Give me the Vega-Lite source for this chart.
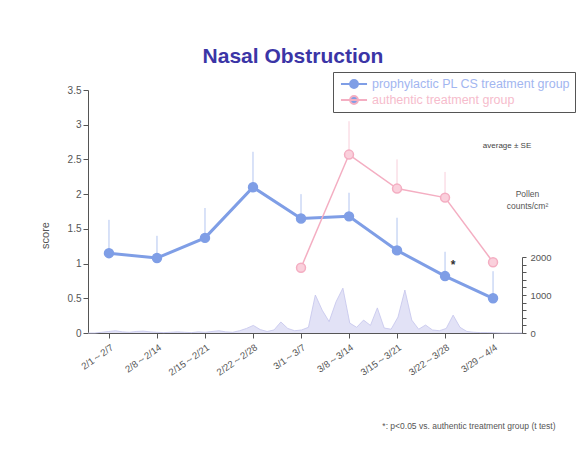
{
  "$schema": "https://vega.github.io/schema/vega-lite/v6.json",
  "width": 434,
  "height": 243,
  "autosize": "none",
  "padding": {"left": 88, "top": 90, "right": 65, "bottom": 128},
  "background": "white",
  "config": {
    "font": "Liberation Sans",
    "view": {"stroke": null},
    "axis": {"grid": false, "domainColor": "#555", "tickColor": "#555", "labelColor": "#555", "titleColor": "#555", "titleFontWeight": "normal", "labelFont": "Liberation Sans", "titleFont": "Liberation Sans"}
  },
  "title": {"text": "Nasal Obstruction", "fontSize": 21, "fontWeight": "bold", "color": "#3b35a6", "anchor": "middle", "dx": -12, "offset": 5},
  "datasets": {
    "pollen": [
      {"day": 0, "pollen": 0}, {"day": 1, "pollen": 0}, {"day": 2, "pollen": 20}, {"day": 3, "pollen": 40}, {"day": 4, "pollen": 60},
      {"day": 5, "pollen": 30}, {"day": 6, "pollen": 20}, {"day": 7, "pollen": 40}, {"day": 8, "pollen": 50}, {"day": 9, "pollen": 30},
      {"day": 10, "pollen": 20}, {"day": 11, "pollen": 10}, {"day": 12, "pollen": 20}, {"day": 13, "pollen": 30}, {"day": 14, "pollen": 20},
      {"day": 15, "pollen": 10}, {"day": 16, "pollen": 30}, {"day": 17, "pollen": 20}, {"day": 18, "pollen": 40}, {"day": 19, "pollen": 60},
      {"day": 20, "pollen": 30}, {"day": 21, "pollen": 20}, {"day": 22, "pollen": 60}, {"day": 23, "pollen": 120}, {"day": 24, "pollen": 200},
      {"day": 25, "pollen": 90}, {"day": 26, "pollen": 40}, {"day": 27, "pollen": 80}, {"day": 28, "pollen": 290}, {"day": 29, "pollen": 120},
      {"day": 30, "pollen": 60}, {"day": 31, "pollen": 80}, {"day": 32, "pollen": 150}, {"day": 33, "pollen": 1000}, {"day": 34, "pollen": 600},
      {"day": 35, "pollen": 300}, {"day": 36, "pollen": 820}, {"day": 37, "pollen": 1180}, {"day": 38, "pollen": 260}, {"day": 39, "pollen": 150},
      {"day": 40, "pollen": 340}, {"day": 41, "pollen": 200}, {"day": 42, "pollen": 660}, {"day": 43, "pollen": 130}, {"day": 44, "pollen": 100},
      {"day": 45, "pollen": 420}, {"day": 46, "pollen": 1130}, {"day": 47, "pollen": 340}, {"day": 48, "pollen": 100}, {"day": 49, "pollen": 210},
      {"day": 50, "pollen": 80}, {"day": 51, "pollen": 60}, {"day": 52, "pollen": 120}, {"day": 53, "pollen": 470}, {"day": 54, "pollen": 150},
      {"day": 55, "pollen": 40}, {"day": 56, "pollen": 20}, {"day": 57, "pollen": 10}, {"day": 58, "pollen": 10}, {"day": 59, "pollen": 5},
      {"day": 60, "pollen": 0}, {"day": 61, "pollen": 0}, {"day": 62, "pollen": 0}, {"day": 63, "pollen": 0}
    ],
    "scores": [
      {"week": "2/1～2/7", "group": "prophylactic PL CS treatment group", "score": 1.15, "upper": 1.63},
      {"week": "2/8～2/14", "group": "prophylactic PL CS treatment group", "score": 1.08, "upper": 1.40},
      {"week": "2/15～2/21", "group": "prophylactic PL CS treatment group", "score": 1.37, "upper": 1.80},
      {"week": "2/22～2/28", "group": "prophylactic PL CS treatment group", "score": 2.10, "upper": 2.61},
      {"week": "3/1～3/7", "group": "prophylactic PL CS treatment group", "score": 1.65, "upper": 2.00},
      {"week": "3/8～3/14", "group": "prophylactic PL CS treatment group", "score": 1.68, "upper": 2.02},
      {"week": "3/15～3/21", "group": "prophylactic PL CS treatment group", "score": 1.19, "upper": 1.66},
      {"week": "3/22～3/28", "group": "prophylactic PL CS treatment group", "score": 0.82, "upper": 1.17},
      {"week": "3/29～4/4", "group": "prophylactic PL CS treatment group", "score": 0.50, "upper": 0.89},
      {"week": "3/1～3/7", "group": "authentic treatment group", "score": 0.94, "upper": 0.94},
      {"week": "3/8～3/14", "group": "authentic treatment group", "score": 2.57, "upper": 3.05},
      {"week": "3/15～3/21", "group": "authentic treatment group", "score": 2.08, "upper": 2.50},
      {"week": "3/22～3/28", "group": "authentic treatment group", "score": 1.95, "upper": 2.32},
      {"week": "3/29～4/4", "group": "authentic treatment group", "score": 1.02, "upper": 1.02}
    ],
    "notes": [
      {"week": "3/29～4/4", "y": 2.7, "text": "average ± SE", "kind": "avg"},
      {"week": "3/22～3/28", "y": 0.98, "text": "*", "kind": "star"}
    ]
  },
  "layer": [
    {
      "data": {"name": "pollen"},
      "mark": {"type": "area", "color": "#d6d6f2", "opacity": 0.7, "line": {"color": "#c4c4ec", "strokeWidth": 0.8}},
      "encoding": {
        "x": {"field": "day", "type": "quantitative", "scale": {"domain": [0, 63], "nice": false, "zero": false}, "axis": null},
        "y": {
          "field": "pollen", "type": "quantitative",
          "scale": {"domain": [0, 2000], "range": [243, 167], "nice": false},
          "axis": {
            "orient": "right", "values": [0, 200, 400, 600, 800, 1000, 1200, 1400, 1600, 1800, 2000],
            "format": "d", "labelExpr": "datum.value % 1000 === 0 ? datum.label : ''", "labelOverlap": false,
            "tickSize": 4, "labelFontSize": 9.5, "labelPadding": 4,
            "title": ["Pollen", "counts/cm²"], "titleAngle": 0, "titleX": 5, "titleY": 103,
            "titleAlign": "center", "titleBaseline": "middle", "titleFontSize": 8.5, "titleLineHeight": 12
          }
        }
      }
    },
    {
      "data": {"name": "scores"},
      "encoding": {
        "x": {
          "field": "week", "type": "ordinal",
          "scale": {"type": "point", "padding": 0.52, "align": 0.42, "domain": ["2/1～2/7", "2/8～2/14", "2/15～2/21", "2/22～2/28", "3/1～3/7", "3/8～3/14", "3/15～3/21", "3/22～3/28", "3/29～4/4"]},
          "axis": {
            "labelAngle": -35, "labelFontSize": 9.5, "tickSize": 5, "labelPadding": 4,
            "title": "*: p<0.05 vs. authentic treatment group (t test)", "titleX": 467, "titleY": 92,
            "titleAlign": "right", "titleBaseline": "middle", "titleFontSize": 8.5
          }
        },
        "y": {
          "field": "score", "type": "quantitative",
          "scale": {"domain": [0, 3.5], "nice": false},
          "axis": {"values": [0, 0.5, 1, 1.5, 2, 2.5, 3, 3.5], "format": "~g", "labelFontSize": 10, "title": "score", "titleFontSize": 11, "titleX": -43, "titleY": 145, "titleAlign": "center", "titleBaseline": "middle"}
        }
      },
      "layer": [
        {
          "mark": {"type": "rule", "strokeWidth": 1, "opacity": 0.6},
          "encoding": {
            "y2": {"field": "upper"},
            "stroke": {"condition": {"test": "datum.group === 'authentic treatment group'", "value": "#f4aec2"}, "value": "#7f9ee6"}
          }
        },
        {
          "mark": {"type": "line"},
          "encoding": {
            "color": {"field": "group", "type": "nominal", "scale": {"domain": ["prophylactic PL CS treatment group", "authentic treatment group"], "range": ["#7f9ee6", "#f4aec2"]},
              "legend": {
                "orient": "none", "legendX": 245, "legendY": -18, "title": null,
                "strokeColor": "#555", "fillColor": "white", "padding": 4,
                "labelFontSize": 12.5, "labelLimit": 300, "labelOffset": 10,
                "labelColor": {"expr": "datum.value === 'authentic treatment group' ? '#f6bccc' : '#a2b6f0'"},
                "symbolType": "M-2,0L2,0M-0.6,0a0.6,0.6 0 1,0 1.2,0a0.6,0.6 0 1,0 -1.2,0",
                "symbolSize": 170, "symbolStrokeWidth": 2, "symbolOffset": 9, "rowPadding": -1
              }
            },
            "strokeWidth": {"condition": {"test": "datum.group === 'authentic treatment group'", "value": 1.5}, "value": 3}
          }
        },
        {
          "mark": {"type": "point", "filled": false, "size": 80, "strokeWidth": 1.5, "opacity": 1},
          "encoding": {
            "color": {"field": "group", "type": "nominal"},
            "fill": {"condition": {"test": "datum.group === 'authentic treatment group'", "value": "#fad0dc"}, "value": "#7f9ee6"}
          }
        },
        {
          "data": {"name": "notes"},
          "transform": [{"filter": "datum.kind === 'avg'"}],
          "mark": {"type": "text", "fontSize": 8, "color": "#444", "dx": 14},
          "encoding": {"y": {"field": "y", "type": "quantitative"}, "text": {"field": "text"}}
        },
        {
          "data": {"name": "notes"},
          "transform": [{"filter": "datum.kind === 'star'"}],
          "mark": {"type": "text", "fontSize": 12, "fontWeight": "bold", "color": "#333", "dx": 8},
          "encoding": {"y": {"field": "y", "type": "quantitative"}, "text": {"field": "text"}}
        }
      ]
    }
  ],
  "resolve": {"scale": {"x": "independent", "y": "independent"}}
}
